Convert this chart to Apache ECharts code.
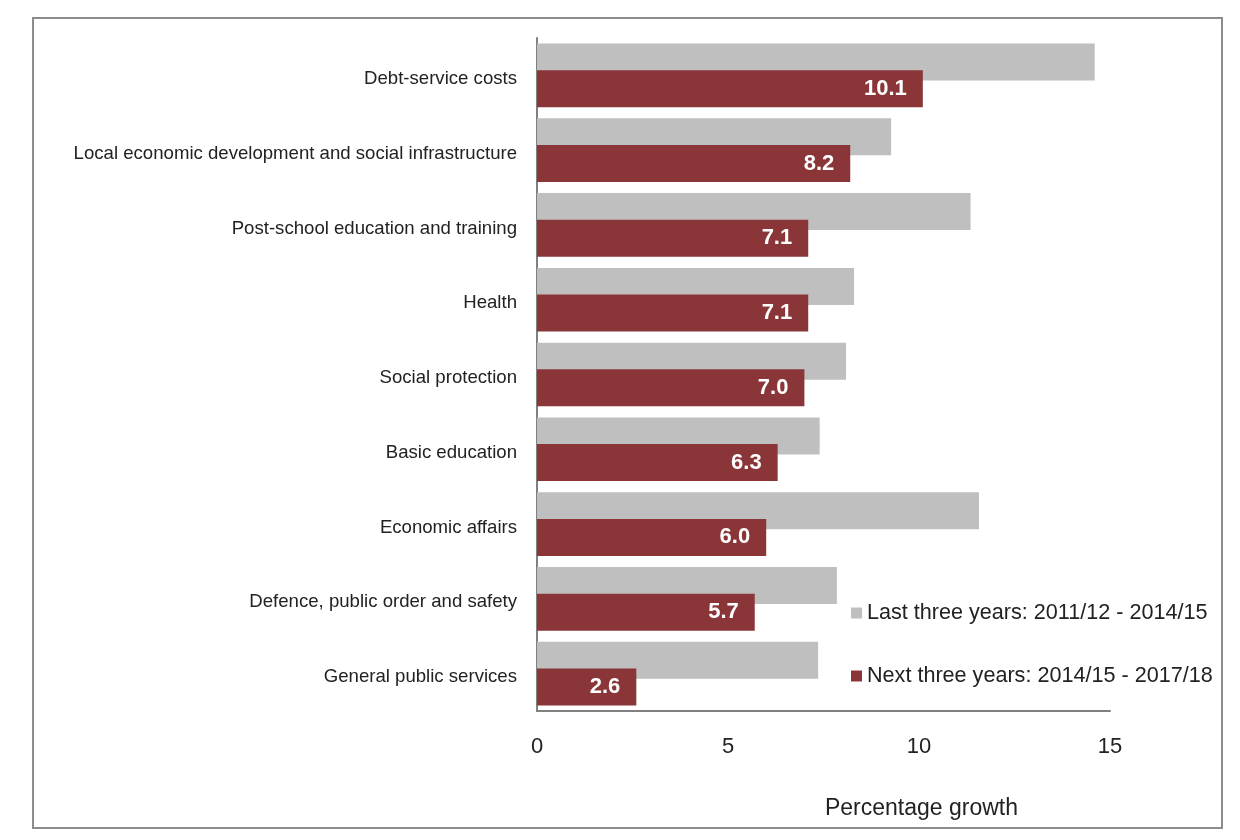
<!DOCTYPE html>
<html>
<head>
<meta charset="utf-8">
<script src="https://cdn.jsdelivr.net/npm/echarts@6/dist/echarts.min.js"></script>
<style>html,body{margin:0;padding:0;background:#fff;}#c{width:1240px;height:840px;}</style>
</head>
<body>
<div id="c"></div>
<script>
const categories = [
  'Debt-service costs',
  'Local economic development and social infrastructure',
  'Post-school education and training',
  'Health',
  'Social protection',
  'Basic education',
  'Economic affairs',
  'Defence, public order and safety',
  'General public services'
];
const lastThreeYears = [14.6, 9.27, 11.35, 8.3, 8.09, 7.4, 11.57, 7.85, 7.36];
const nextThreeYears = [10.1, 8.2, 7.1, 7.1, 7.0, 6.3, 6.0, 5.7, 2.6];
const seriesNames = ['Last three years: 2011/12 - 2014/15', 'Next three years: 2014/15 - 2017/18'];
const xTicks = [0, 5, 10, 15];

const sans = '"Liberation Sans", Arial, sans-serif';

const chart = echarts.init(document.getElementById('c'));
chart.setOption({
  animation: false,
  backgroundColor: '#fff',
  graphic: [{
    type: 'rect',
    shape: { x: 33, y: 18, width: 1189, height: 810 },
    style: { fill: 'none', stroke: '#8c8c8c', lineWidth: 2 },
    silent: true
  }],
  grid: { left: 537, top: 38, width: 573, height: 673 },
  legend: {
    orient: 'vertical',
    left: 846,
    top: 597,
    itemWidth: 11,
    itemHeight: 11,
    itemGap: 41,
    icon: 'rect',
    textStyle: { fontFamily: sans, fontSize: 21.6, color: '#222' },
    data: seriesNames
  },
  xAxis: {
    type: 'value',
    min: xTicks[0],
    max: xTicks[xTicks.length - 1],
    interval: 5,
    axisLine: { show: true, lineStyle: { color: '#808080', width: 2 } },
    axisTick: { show: false },
    splitLine: { show: false },
    axisLabel: { fontFamily: sans, fontSize: 22, color: '#222', margin: 25 },
    name: 'Percentage growth',
    nameLocation: 'middle',
    nameGap: 86,
    nameTextStyle: { fontFamily: sans, fontSize: 23, color: '#222', padding: [0, 0, 0, 196] }
  },
  yAxis: {
    type: 'category',
    inverse: true,
    data: categories,
    axisLine: { show: true, lineStyle: { color: '#808080', width: 2 } },
    axisTick: { show: false },
    axisLabel: {
      fontFamily: sans, fontSize: 18.6, color: '#222', margin: 20,
      formatter: v => '{l|' + v + '}',
      rich: { l: { fontFamily: sans, fontSize: 18.6, color: '#222', padding: [7, 0, 0, 0] } }
    }
  },
  series: [
    {
      name: seriesNames[0],
      type: 'bar',
      data: lastThreeYears,
      barWidth: 37,
      barGap: '-28%',
      itemStyle: { color: '#bfbfbf' }
    },
    {
      name: seriesNames[1],
      type: 'bar',
      data: nextThreeYears,
      barWidth: 37,
      itemStyle: { color: '#8a3638' },
      label: {
        show: true,
        position: 'insideRight',
        distance: 16,
        color: '#fff',
        fontFamily: sans,
        fontWeight: 'bold',
        fontSize: 22,
        formatter: p => p.value.toFixed(1)
      }
    }
  ]
});
</script>
</body>
</html>
